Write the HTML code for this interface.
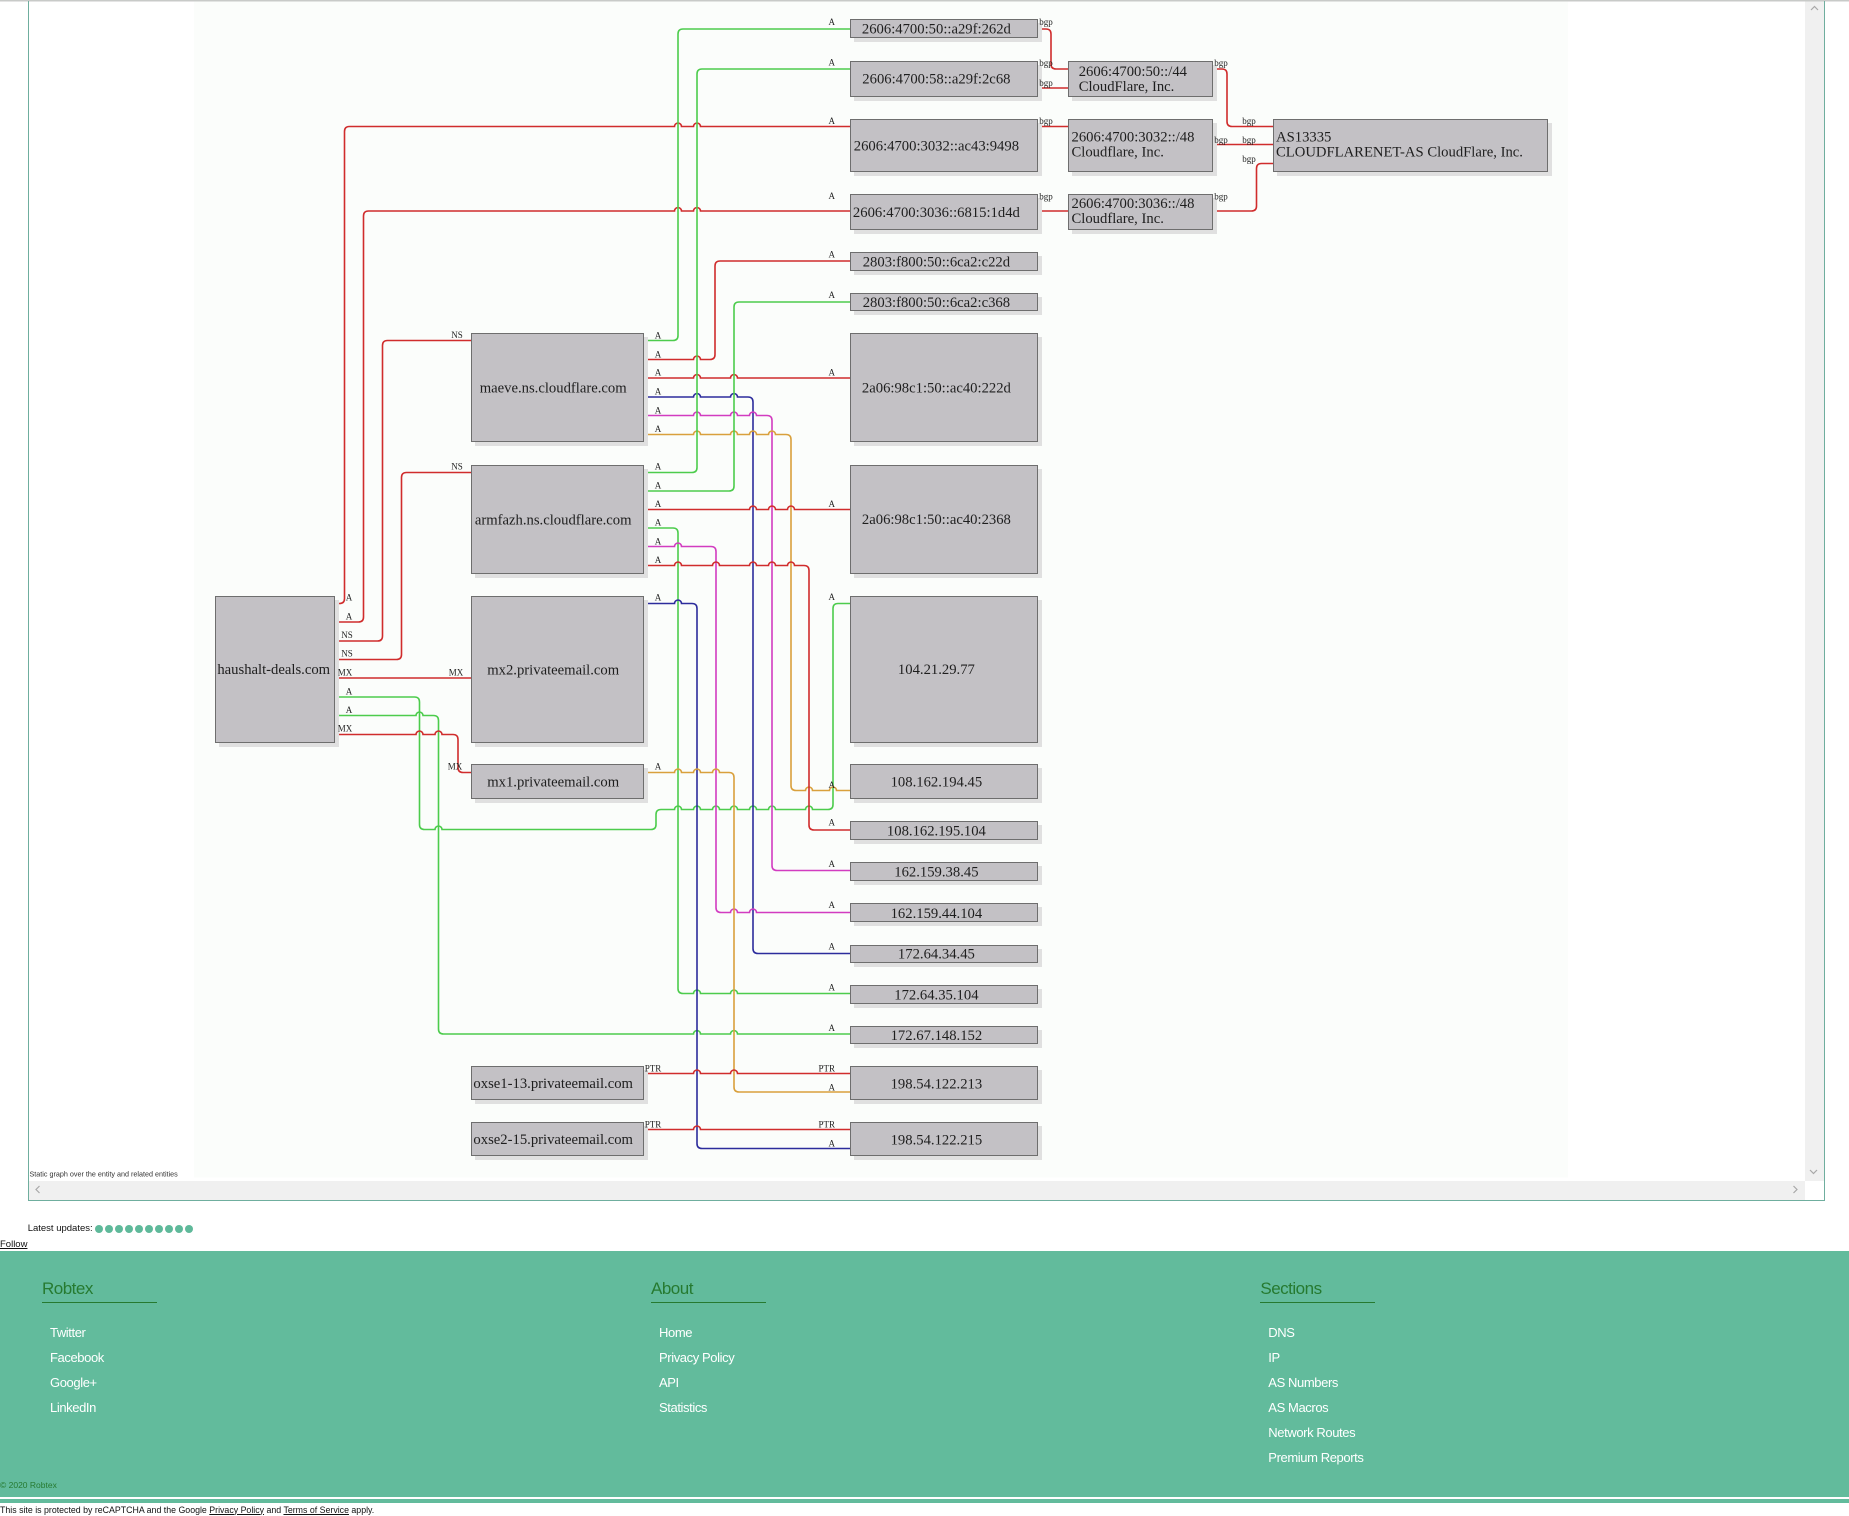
<!DOCTYPE html>
<html><head><meta charset="utf-8"><style>
html,body{margin:0;padding:0;background:#fff;width:1849px;height:1516px;overflow:hidden;position:relative}
.t{font-family:"Liberation Serif",serif;font-size:14.67px;fill:#1e1e1e}
.l{font-family:"Liberation Serif",serif;font-size:9px;fill:#222;text-anchor:middle}
.e{fill:none;stroke-width:1.6}
.r{stroke:#d02c2c}.g{stroke:#4ccc4c}.b{stroke:#2c2c9c}.m{stroke:#d23cc0}.o{stroke:#d9a03c}
.bx{fill:#c3c1c5;stroke:#6e6e6e;stroke-width:1}
.sh{fill:#e0e0e0}
.f{position:absolute;font-family:"Liberation Sans",sans-serif;white-space:nowrap}
.h{color:#267a30;font-size:17px;letter-spacing:-0.5px;line-height:1}
.ul{position:absolute;height:1.5px;background:#267a30;width:115px}
.lk{color:#fff;font-size:13px;letter-spacing:-0.4px;line-height:1}
</style></head><body>
<svg width="1849" height="1516" style="position:absolute;left:0;top:0">
<rect x="0" y="0" width="1849" height="1.5" fill="#c8cac8"/>
<rect x="194" y="1.5" width="1374" height="1176" fill="#fbfdfb"/>
<!-- edges -->
<path class="e r" d="M335,603.5 H339.5 Q344.5,603.5 344.5,598.5 V131.5 Q344.5,126.5 349.5,126.5 H674.5 a3.5,3.5 0 0 1 7,0 H693.5 a3.5,3.5 0 0 1 7,0 H850"/>
<path class="e r" d="M335,622 H358.5 Q363.5,622 363.5,617 V216 Q363.5,211 368.5,211 H674.5 a3.5,3.5 0 0 1 7,0 H693.5 a3.5,3.5 0 0 1 7,0 H850"/>
<path class="e r" d="M335,641 H377.5 Q382.5,641 382.5,636 V345.5 Q382.5,340.5 387.5,340.5 H471"/>
<path class="e r" d="M335,659.5 H396.5 Q401.5,659.5 401.5,654.5 V477.5 Q401.5,472.5 406.5,472.5 H471"/>
<path class="e r" d="M335,678 H471"/>
<path class="e g" d="M335,697 H414.5 Q419.5,697 419.5,702 V824.5 Q419.5,829.5 424.5,829.5 H435 a3.5,3.5 0 0 1 7,0 H651 Q656,829.5 656,824.5 V814.5 Q656,809.5 661,809.5 H674.5 a3.5,3.5 0 0 1 7,0 H693.5 a3.5,3.5 0 0 1 7,0 H712.5 a3.5,3.5 0 0 1 7,0 H730.5 a3.5,3.5 0 0 1 7,0 H749.5 a3.5,3.5 0 0 1 7,0 H768.5 a3.5,3.5 0 0 1 7,0 H805.5 a3.5,3.5 0 0 1 7,0 H828 Q833,809.5 833,804.5 V608.5 Q833,603.5 838,603.5 H850"/>
<path class="e g" d="M335,715.5 H416 a3.5,3.5 0 0 1 7,0 H433.5 Q438.5,715.5 438.5,720.5 V1029 Q438.5,1034 443.5,1034 H693.5 a3.5,3.5 0 0 1 7,0 H730.5 a3.5,3.5 0 0 1 7,0 H850"/>
<path class="e r" d="M335,734.5 H416 a3.5,3.5 0 0 1 7,0 H435 a3.5,3.5 0 0 1 7,0 H453 Q458,734.5 458,739.5 V767.5 Q458,772.5 463,772.5 H471"/>
<path class="e g" d="M644,340.5 H673 Q678,340.5 678,335.5 V34 Q678,29 683,29 H850"/>
<path class="e r" d="M644,359.5 H693.5 a3.5,3.5 0 0 1 7,0 H710 Q715,359.5 715,354.5 V266 Q715,261 720,261 H850"/>
<path class="e r" d="M644,378 H693.5 a3.5,3.5 0 0 1 7,0 H730.5 a3.5,3.5 0 0 1 7,0 H850"/>
<path class="e b" d="M644,397 H693.5 a3.5,3.5 0 0 1 7,0 H730.5 a3.5,3.5 0 0 1 7,0 H748 Q753,397 753,402 V948.5 Q753,953.5 758,953.5 H850"/>
<path class="e m" d="M644,415.5 H693.5 a3.5,3.5 0 0 1 7,0 H730.5 a3.5,3.5 0 0 1 7,0 H749.5 a3.5,3.5 0 0 1 7,0 H767 Q772,415.5 772,420.5 V865.5 Q772,870.5 777,870.5 H850"/>
<path class="e o" d="M644,434.5 H693.5 a3.5,3.5 0 0 1 7,0 H730.5 a3.5,3.5 0 0 1 7,0 H749.5 a3.5,3.5 0 0 1 7,0 H768.5 a3.5,3.5 0 0 1 7,0 H786 Q791,434.5 791,439.5 V785.5 Q791,790.5 796,790.5 H805.5 a3.5,3.5 0 0 1 7,0 H829.5 a3.5,3.5 0 0 1 7,0 H850"/>
<path class="e g" d="M644,472.5 H692 Q697,472.5 697,467.5 V74 Q697,69 702,69 H850"/>
<path class="e g" d="M644,491 H729 Q734,491 734,486 V307 Q734,302 739,302 H850"/>
<path class="e r" d="M644,509.5 H749.5 a3.5,3.5 0 0 1 7,0 H768.5 a3.5,3.5 0 0 1 7,0 H787.5 a3.5,3.5 0 0 1 7,0 H850"/>
<path class="e g" d="M644,528 H673 Q678,528 678,533 V988.5 Q678,993.5 683,993.5 H693.5 a3.5,3.5 0 0 1 7,0 H730.5 a3.5,3.5 0 0 1 7,0 H850"/>
<path class="e m" d="M644,546.5 H674.5 a3.5,3.5 0 0 1 7,0 H711 Q716,546.5 716,551.5 V907.5 Q716,912.5 721,912.5 H730.5 a3.5,3.5 0 0 1 7,0 H749.5 a3.5,3.5 0 0 1 7,0 H850"/>
<path class="e r" d="M644,565.5 H674.5 a3.5,3.5 0 0 1 7,0 H712.5 a3.5,3.5 0 0 1 7,0 H749.5 a3.5,3.5 0 0 1 7,0 H768.5 a3.5,3.5 0 0 1 7,0 H787.5 a3.5,3.5 0 0 1 7,0 H804 Q809,565.5 809,570.5 V825 Q809,830 814,830 H850"/>
<path class="e b" d="M644,603.5 H674.5 a3.5,3.5 0 0 1 7,0 H692 Q697,603.5 697,608.5 V1143.5 Q697,1148.5 702,1148.5 H850"/>
<path class="e o" d="M644,772.5 H674.5 a3.5,3.5 0 0 1 7,0 H693.5 a3.5,3.5 0 0 1 7,0 H712.5 a3.5,3.5 0 0 1 7,0 H729 Q734,772.5 734,777.5 V1087 Q734,1092 739,1092 H850"/>
<path class="e r" d="M644,1073.5 H693.5 a3.5,3.5 0 0 1 7,0 H730.5 a3.5,3.5 0 0 1 7,0 H850"/>
<path class="e r" d="M644,1129.5 H693.5 a3.5,3.5 0 0 1 7,0 H850"/>
<path class="e r" d="M1038,29 H1046 Q1051,29 1051,34 V64 Q1051,69 1056,69 H1068"/>
<path class="e r" d="M1038,88 H1068"/>
<path class="e r" d="M1038,126.5 H1068"/>
<path class="e r" d="M1038,211 H1068"/>
<path class="e r" d="M1213,69 H1222 Q1227,69 1227,74 V121.5 Q1227,126.5 1232,126.5 H1273"/>
<path class="e r" d="M1213,144.5 H1273"/>
<path class="e r" d="M1213,211 H1251.5 Q1256.5,211 1256.5,206 V168.5 Q1256.5,163.5 1261.5,163.5 H1273"/>
<!-- shadows -->
<g class="sh">
<rect x="219" y="600" width="120" height="147"/>
<rect x="475" y="337" width="173" height="109"/><rect x="475" y="469" width="173" height="109"/><rect x="475" y="600" width="173" height="147"/><rect x="475" y="768" width="173" height="35"/><rect x="475" y="1070" width="173" height="34"/><rect x="475" y="1126" width="173" height="34"/>
<rect x="854" y="23" width="188" height="19"/><rect x="854" y="65" width="188" height="36"/><rect x="854" y="123" width="188" height="53"/><rect x="854" y="198" width="188" height="36"/><rect x="854" y="256" width="188" height="19"/><rect x="854" y="297" width="188" height="18"/><rect x="854" y="337" width="188" height="109"/><rect x="854" y="469" width="188" height="109"/><rect x="854" y="600" width="188" height="147"/><rect x="854" y="768" width="188" height="35"/><rect x="854" y="825" width="188" height="19"/><rect x="854" y="866" width="188" height="19"/><rect x="854" y="907" width="188" height="19"/><rect x="854" y="949" width="188" height="18"/><rect x="854" y="989" width="188" height="19"/><rect x="854" y="1030" width="188" height="18"/><rect x="854" y="1070" width="188" height="34"/><rect x="854" y="1126" width="188" height="34"/>
<rect x="1072" y="65" width="145" height="36"/><rect x="1072" y="123" width="145" height="53"/><rect x="1072" y="198" width="145" height="36"/><rect x="1277" y="123" width="275" height="53"/>
</g>
<!-- boxes -->
<g class="bx">
<rect x="215.5" y="596.5" width="119" height="146"/>
<rect x="471.5" y="333.5" width="172" height="108"/><rect x="471.5" y="465.5" width="172" height="108"/><rect x="471.5" y="596.5" width="172" height="146"/><rect x="471.5" y="764.5" width="172" height="34"/><rect x="471.5" y="1066.5" width="172" height="33"/><rect x="471.5" y="1122.5" width="172" height="33"/>
<rect x="850.5" y="19.5" width="187" height="18"/><rect x="850.5" y="61.5" width="187" height="35"/><rect x="850.5" y="119.5" width="187" height="52"/><rect x="850.5" y="194.5" width="187" height="35"/><rect x="850.5" y="252.5" width="187" height="18"/><rect x="850.5" y="293.5" width="187" height="17"/><rect x="850.5" y="333.5" width="187" height="108"/><rect x="850.5" y="465.5" width="187" height="108"/><rect x="850.5" y="596.5" width="187" height="146"/><rect x="850.5" y="764.5" width="187" height="34"/><rect x="850.5" y="821.5" width="187" height="18"/><rect x="850.5" y="862.5" width="187" height="18"/><rect x="850.5" y="903.5" width="187" height="18"/><rect x="850.5" y="945.5" width="187" height="17"/><rect x="850.5" y="985.5" width="187" height="18"/><rect x="850.5" y="1026.5" width="187" height="17"/><rect x="850.5" y="1066.5" width="187" height="33"/><rect x="850.5" y="1122.5" width="187" height="33"/>
<rect x="1068.5" y="61.5" width="144" height="35"/><rect x="1068.5" y="119.5" width="144" height="52"/><rect x="1068.5" y="194.5" width="144" height="35"/><rect x="1273.5" y="119.5" width="274" height="52"/>
</g>
<!-- box texts -->
<g class="t" text-anchor="middle">
<text x="273.7" y="674">haushalt-deals.com</text>
<text x="553.2" y="392.5">maeve.ns.cloudflare.com</text>
<text x="553.2" y="524.5">armfazh.ns.cloudflare.com</text>
<text x="553.2" y="674.5">mx2.privateemail.com</text>
<text x="553.2" y="786.5">mx1.privateemail.com</text>
<text x="553.2" y="1088">oxse1-13.privateemail.com</text>
<text x="553.2" y="1144">oxse2-15.privateemail.com</text>
<text x="936.4" y="33.7">2606:4700:50::a29f:262d</text>
<text x="936.4" y="83.7">2606:4700:58::a29f:2c68</text>
<text x="936.4" y="150.5">2606:4700:3032::ac43:9498</text>
<text x="936.4" y="217.2">2606:4700:3036::6815:1d4d</text>
<text x="936.4" y="266.5">2803:f800:50::6ca2:c22d</text>
<text x="936.4" y="307">2803:f800:50::6ca2:c368</text>
<text x="936.4" y="392.5">2a06:98c1:50::ac40:222d</text>
<text x="936.4" y="524">2a06:98c1:50::ac40:2368</text>
<text x="936.4" y="674.2">104.21.29.77</text>
<text x="936.4" y="786.5">108.162.194.45</text>
<text x="936.4" y="835.5">108.162.195.104</text>
<text x="936.4" y="876.7">162.159.38.45</text>
<text x="936.4" y="917.8">162.159.44.104</text>
<text x="936.4" y="958.7">172.64.34.45</text>
<text x="936.4" y="999.5">172.64.35.104</text>
<text x="936.4" y="1040">172.67.148.152</text>
<text x="936.4" y="1088.3">198.54.122.213</text>
<text x="936.4" y="1144.3">198.54.122.215</text>
</g>
<g class="t">
<text x="1078.7" y="76">2606:4700:50::/44</text><text x="1078.7" y="91">CloudFlare, Inc.</text>
<text x="1071.5" y="141.7">2606:4700:3032::/48</text><text x="1071.5" y="156.5">Cloudflare, Inc.</text>
<text x="1071.5" y="208">2606:4700:3036::/48</text><text x="1071.5" y="223">Cloudflare, Inc.</text>
<text x="1276" y="141.7">AS13335</text><text x="1276" y="156.7">CLOUDFLARENET-AS CloudFlare, Inc.</text>
</g>
<!-- edge labels -->
<g class="l">
<text x="349" y="600.7">A</text><text x="349" y="619.5">A</text><text x="347" y="638">NS</text><text x="347" y="656.5">NS</text><text x="345" y="675.3">MX</text><text x="349" y="694.5">A</text><text x="349" y="713">A</text><text x="345" y="731.7">MX</text>
<text x="658" y="338.3">A</text><text x="658" y="357.3">A</text><text x="658" y="375.7">A</text><text x="658" y="394.7">A</text><text x="658" y="413.3">A</text><text x="658" y="432">A</text>
<text x="658" y="469.7">A</text><text x="658" y="488.3">A</text><text x="658" y="507">A</text><text x="658" y="525.7">A</text><text x="658" y="544.3">A</text><text x="658" y="563">A</text>
<text x="658" y="600.7">A</text><text x="658" y="769.7">A</text>
<text x="653" y="1071.3">PTR</text><text x="653" y="1127.3">PTR</text>
<text x="457" y="338">NS</text><text x="457" y="469.7">NS</text><text x="456" y="675.7">MX</text><text x="455" y="769.7">MX</text>
<text x="831.7" y="25">A</text><text x="831.7" y="65.7">A</text><text x="831.7" y="124">A</text><text x="831.7" y="199">A</text><text x="831.7" y="257.3">A</text><text x="831.7" y="298">A</text><text x="831.7" y="375.7">A</text><text x="831.7" y="507">A</text><text x="831.7" y="600">A</text><text x="831.7" y="788">A</text><text x="831.7" y="825.7">A</text><text x="831.7" y="867">A</text><text x="831.7" y="908">A</text><text x="831.7" y="949.7">A</text><text x="831.7" y="990.3">A</text><text x="831.7" y="1031">A</text><text x="831.7" y="1090.3">A</text><text x="831.7" y="1146.7">A</text>
<text x="826.7" y="1071.3">PTR</text><text x="826.7" y="1127.3">PTR</text>
<text x="1046" y="25">bgp</text><text x="1046" y="66">bgp</text><text x="1046" y="86">bgp</text><text x="1046" y="124">bgp</text><text x="1046" y="199.7">bgp</text>
<text x="1221" y="66">bgp</text><text x="1221" y="143">bgp</text><text x="1221" y="199.7">bgp</text>
<text x="1249" y="124">bgp</text><text x="1249" y="143">bgp</text><text x="1249" y="162">bgp</text>
</g>
<!-- scrollbars & frame -->
<rect x="1805" y="1.5" width="19" height="1179.5" fill="#f0f0f0"/>
<rect x="29" y="1181" width="1776" height="19" fill="#f0f0f0"/>
<polyline points="1811,10 1814.5,6.5 1818,10" fill="none" stroke="#a8a8a8" stroke-width="1.2"/>
<polyline points="1810,1170 1813.5,1173.5 1817,1170" fill="none" stroke="#a8a8a8" stroke-width="1.2"/>
<polyline points="39.5,1186 36,1189.5 39.5,1193" fill="none" stroke="#a8a8a8" stroke-width="1.2"/>
<polyline points="1793.5,1186 1797,1189.5 1793.5,1193" fill="none" stroke="#a8a8a8" stroke-width="1.2"/>
<line x1="28.5" y1="1" x2="28.5" y2="1200.5" stroke="#6fae9e" stroke-width="1"/>
<line x1="1824.5" y1="1" x2="1824.5" y2="1200.5" stroke="#6fae9e" stroke-width="1"/>
<line x1="28" y1="1200.5" x2="1825" y2="1200.5" stroke="#6fae9e" stroke-width="1"/>
<text x="29.5" y="1176.5" style="font-family:'Liberation Sans',sans-serif;font-size:7.2px;fill:#333">Static graph over the entity and related entities</text>
<!-- dots -->
<g fill="#5fb99a">
<circle cx="99" cy="1229" r="4"/><circle cx="109" cy="1229" r="4"/><circle cx="119" cy="1229" r="4"/><circle cx="129" cy="1229" r="4"/><circle cx="139" cy="1229" r="4"/><circle cx="149" cy="1229" r="4"/><circle cx="159" cy="1229" r="4"/><circle cx="169" cy="1229" r="4"/><circle cx="179" cy="1229" r="4"/><circle cx="189" cy="1229" r="4"/>
</g>
</svg>
<div class="f" style="left:27.7px;top:1224px;font-size:9.5px;color:#111;line-height:1">Latest updates:</div>
<div class="f" style="left:0;top:1240px;font-size:9.5px;color:#111;line-height:1;text-decoration:underline">Follow</div>
<div style="position:absolute;left:0;top:1251px;width:1849px;height:246px;background:#62bb9c"></div>
<div style="position:absolute;left:0;top:1498.5px;width:1849px;height:4.5px;background:#62bb9c"></div>
<div class="f h" style="left:42px;top:1280px">Robtex</div>
<div class="ul" style="left:42px;top:1301.5px"></div>
<div class="f h" style="left:651px;top:1280px">About</div>
<div class="ul" style="left:651px;top:1301.5px"></div>
<div class="f h" style="left:1260.4px;top:1280px">Sections</div>
<div class="ul" style="left:1260.4px;top:1301.5px"></div>
<div class="f lk" style="left:50px;top:1325.5px">Twitter</div>
<div class="f lk" style="left:50px;top:1350.5px">Facebook</div>
<div class="f lk" style="left:50px;top:1375.5px">Google+</div>
<div class="f lk" style="left:50px;top:1400.5px">LinkedIn</div>
<div class="f lk" style="left:659px;top:1325.5px">Home</div>
<div class="f lk" style="left:659px;top:1350.5px">Privacy Policy</div>
<div class="f lk" style="left:659px;top:1375.5px">API</div>
<div class="f lk" style="left:659px;top:1400.5px">Statistics</div>
<div class="f lk" style="left:1268.3px;top:1325.5px">DNS</div>
<div class="f lk" style="left:1268.3px;top:1350.5px">IP</div>
<div class="f lk" style="left:1268.3px;top:1375.5px">AS Numbers</div>
<div class="f lk" style="left:1268.3px;top:1400.5px">AS Macros</div>
<div class="f lk" style="left:1268.3px;top:1425.5px">Network Routes</div>
<div class="f lk" style="left:1268.3px;top:1450.5px">Premium Reports</div>
<div class="f" style="left:0;top:1481px;font-size:8.5px;color:#267a30;line-height:1">© 2020 Robtex</div>
<div class="f" style="left:0;top:1505.5px;font-size:8.8px;color:#111;line-height:1">This site is protected by reCAPTCHA and the Google <u>Privacy Policy</u> and <u>Terms of Service</u> apply.</div>
</body></html>
